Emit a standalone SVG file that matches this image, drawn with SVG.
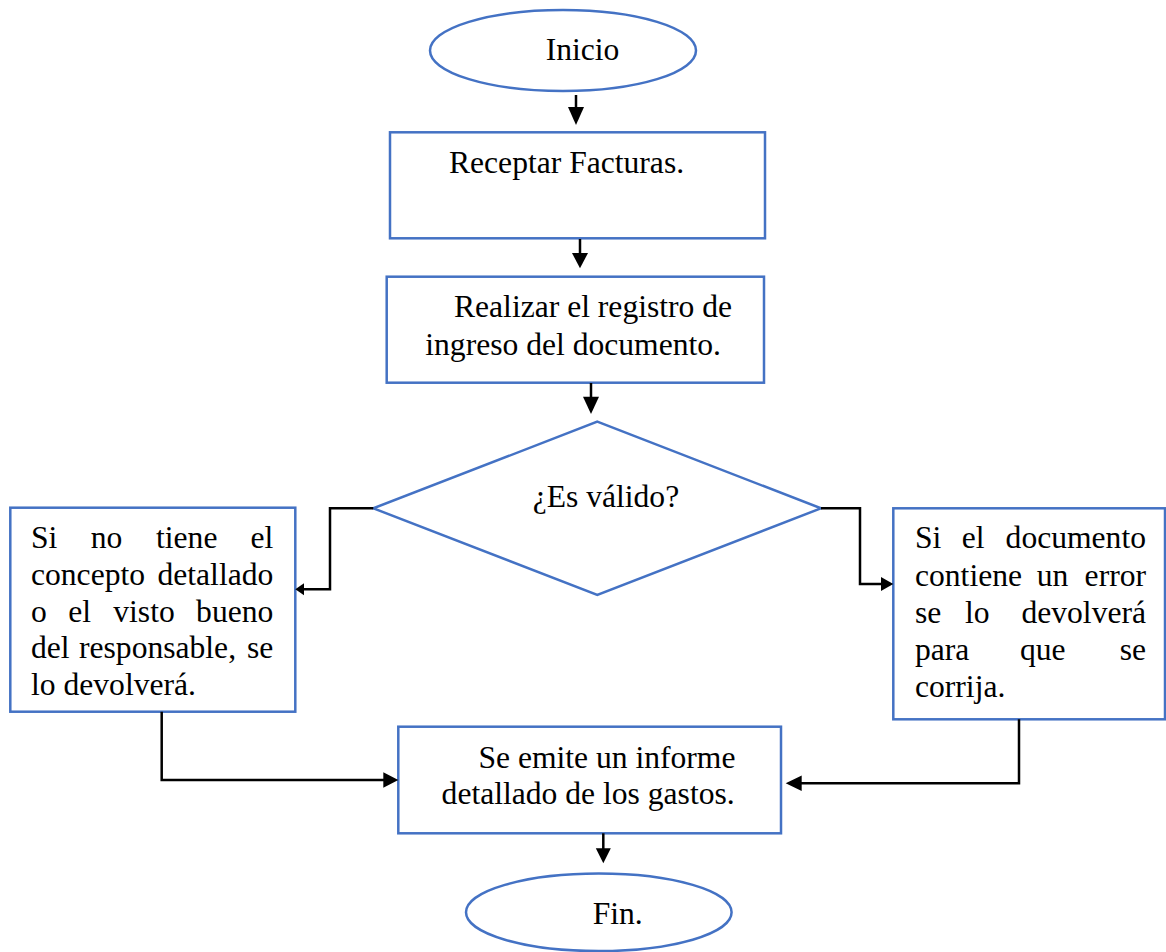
<svg xmlns="http://www.w3.org/2000/svg" width="1166" height="952" viewBox="0 0 1166 952">
<style>
.shape{fill:#fff;stroke:#4472C4;stroke-width:2.5}
.t{font-family:"Liberation Serif","Times New Roman",serif;font-size:31.6px;fill:#000}
.e{text-anchor:end}
.c{fill:none;stroke:#000;stroke-width:2.5}
.h{fill:#000;stroke:none}
</style>
<rect width="1166" height="952" fill="#fff"/>
<g id="inicio">
<ellipse class="shape" cx="563" cy="50.5" rx="133" ry="40.5"/>
<text class="t" x="545.7" y="60">Inicio</text>
</g>
<g id="receptar">
<rect class="shape" x="390" y="132.3" width="375" height="106"/>
<text class="t" x="449" y="172.7">Receptar Facturas.</text>
</g>
<g id="registro">
<rect class="shape" x="386.7" y="276.7" width="377.3" height="106"/>
<text class="t" x="454" y="317">Realizar el registro de</text>
<text class="t" x="425.3" y="354.5">ingreso del documento.</text>
</g>
<g id="valido">
<polygon class="shape" points="597.3,421.7 821,508.3 597.3,595 373.3,508.3"/>
<text class="t" x="532.7" y="506.7">¿Es válido?</text>
</g>
<g id="no-concepto">
<rect class="shape" x="10.3" y="507.7" width="285" height="204"/>
<text class="t" x="31" y="548.3">Si</text>
<text class="t" x="90.7" y="548.3">no</text>
<text class="t" x="156" y="548.3">tiene</text>
<text class="t e" x="273.3" y="548.3">el</text>
<text class="t" x="31" y="585">concepto</text>
<text class="t e" x="273.3" y="585">detallado</text>
<text class="t" x="31" y="621.7">o</text>
<text class="t" x="68.3" y="621.7">el</text>
<text class="t" x="113.3" y="621.7">visto</text>
<text class="t e" x="273.3" y="621.7">bueno</text>
<text class="t" x="31" y="658.3">del</text>
<text class="t" x="79" y="658.3">responsable,</text>
<text class="t e" x="273.3" y="658.3">se</text>
<text class="t" x="31" y="695">lo devolverá.</text>
</g>
<g id="error">
<rect class="shape" x="893.3" y="508.3" width="271.7" height="211"/>
<text class="t" x="915" y="548.3">Si</text>
<text class="t" x="961.7" y="548.3">el</text>
<text class="t e" x="1146" y="548.3">documento</text>
<text class="t" x="915" y="586">contiene</text>
<text class="t" x="1036.7" y="586">un</text>
<text class="t e" x="1146" y="586">error</text>
<text class="t" x="915" y="622.7">se</text>
<text class="t" x="965" y="622.7">lo</text>
<text class="t e" x="1146" y="622.7">devolverá</text>
<text class="t" x="915" y="660">para</text>
<text class="t" x="1020" y="660">que</text>
<text class="t e" x="1146" y="660">se</text>
<text class="t" x="915" y="696.7">corrija.</text>
</g>
<g id="informe">
<rect class="shape" x="398.3" y="726.7" width="382.7" height="106.6"/>
<text class="t" x="478.4" y="768.3">Se emite un informe</text>
<text class="t" x="441.6" y="803.8">detallado de los gastos.</text>
</g>
<g id="fin">
<ellipse class="shape" cx="598.8" cy="912.3" rx="132.8" ry="38.8"/>
<text class="t" x="592.7" y="924">Fin.</text>
</g>
<g id="connectors">
<line class="c" x1="576" y1="95" x2="576" y2="110"/>
<polygon class="h" points="568,107 584,107 576,125"/>
<line class="c" x1="580" y1="239" x2="580" y2="255"/>
<polygon class="h" points="572,253 588,253 580,268.3"/>
<line class="c" x1="591" y1="383" x2="591" y2="399"/>
<polygon class="h" points="583,396.7 599,396.7 591,414"/>
<polyline class="c" points="373.3,508.3 330,508.3 330,589.3 302,589.3"/>
<polygon class="h" points="304,583.3 304,595.3 295.3,589.3"/>
<polyline class="c" points="821,508.3 860,508.3 860,584 883,584"/>
<polygon class="h" points="881,577 881,591 893.3,584"/>
<polyline class="c" points="161.7,711.7 161.7,780 385,780"/>
<polygon class="h" points="383.3,772.2 383.3,787.8 398.3,780"/>
<polyline class="c" points="1019,719.3 1019,783.3 800,783.3"/>
<polygon class="h" points="801.7,775.5 801.7,791.1 785.7,783.3"/>
<line class="c" x1="603.3" y1="833.3" x2="603.3" y2="850"/>
<polygon class="h" points="595.8,848.3 610.8,848.3 603.3,863.3"/>
</g>
</svg>
